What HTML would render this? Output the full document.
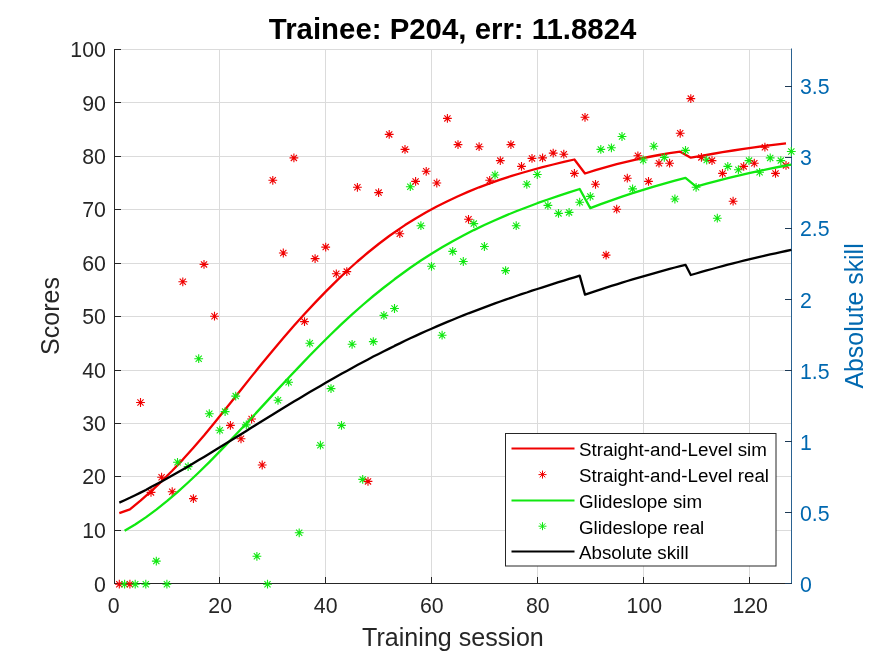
<!DOCTYPE html>
<html><head><meta charset="utf-8"><style>
html,body{margin:0;padding:0;background:#fff;}
svg{display:block;font-family:"Liberation Sans",sans-serif;filter:grayscale(0.001);}
</style></head><body>
<svg width="875" height="656" viewBox="0 0 875 656">
<rect width="875" height="656" fill="#fff"/>
<line x1="114.5" y1="583.5" x2="791.5" y2="583.5" stroke="#dbdbdb" stroke-width="1"/>
<line x1="114.5" y1="530.5" x2="791.5" y2="530.5" stroke="#dbdbdb" stroke-width="1"/>
<line x1="114.5" y1="476.5" x2="791.5" y2="476.5" stroke="#dbdbdb" stroke-width="1"/>
<line x1="114.5" y1="423.5" x2="791.5" y2="423.5" stroke="#dbdbdb" stroke-width="1"/>
<line x1="114.5" y1="370.5" x2="791.5" y2="370.5" stroke="#dbdbdb" stroke-width="1"/>
<line x1="114.5" y1="316.5" x2="791.5" y2="316.5" stroke="#dbdbdb" stroke-width="1"/>
<line x1="114.5" y1="263.5" x2="791.5" y2="263.5" stroke="#dbdbdb" stroke-width="1"/>
<line x1="114.5" y1="209.5" x2="791.5" y2="209.5" stroke="#dbdbdb" stroke-width="1"/>
<line x1="114.5" y1="156.5" x2="791.5" y2="156.5" stroke="#dbdbdb" stroke-width="1"/>
<line x1="114.5" y1="102.5" x2="791.5" y2="102.5" stroke="#dbdbdb" stroke-width="1"/>
<line x1="114.5" y1="49.5" x2="791.5" y2="49.5" stroke="#dbdbdb" stroke-width="1"/>
<line x1="219.5" y1="49.5" x2="219.5" y2="583.5" stroke="#dbdbdb" stroke-width="1"/>
<line x1="325.5" y1="49.5" x2="325.5" y2="583.5" stroke="#dbdbdb" stroke-width="1"/>
<line x1="431.5" y1="49.5" x2="431.5" y2="583.5" stroke="#dbdbdb" stroke-width="1"/>
<line x1="537.5" y1="49.5" x2="537.5" y2="583.5" stroke="#dbdbdb" stroke-width="1"/>
<line x1="643.5" y1="49.5" x2="643.5" y2="583.5" stroke="#dbdbdb" stroke-width="1"/>
<line x1="749.5" y1="49.5" x2="749.5" y2="583.5" stroke="#dbdbdb" stroke-width="1"/>
<line x1="114.5" y1="49.0" x2="114.5" y2="584.0" stroke="#262626" stroke-width="1"/>
<line x1="114" y1="583.5" x2="791.5" y2="583.5" stroke="#262626" stroke-width="1"/>
<line x1="791.5" y1="48.5" x2="791.5" y2="584.0" stroke="#2a6291" stroke-width="1"/>
<line x1="114" y1="583.5" x2="121" y2="583.5" stroke="#262626" stroke-width="1"/>
<line x1="114" y1="530.5" x2="121" y2="530.5" stroke="#262626" stroke-width="1"/>
<line x1="114" y1="476.5" x2="121" y2="476.5" stroke="#262626" stroke-width="1"/>
<line x1="114" y1="423.5" x2="121" y2="423.5" stroke="#262626" stroke-width="1"/>
<line x1="114" y1="370.5" x2="121" y2="370.5" stroke="#262626" stroke-width="1"/>
<line x1="114" y1="316.5" x2="121" y2="316.5" stroke="#262626" stroke-width="1"/>
<line x1="114" y1="263.5" x2="121" y2="263.5" stroke="#262626" stroke-width="1"/>
<line x1="114" y1="209.5" x2="121" y2="209.5" stroke="#262626" stroke-width="1"/>
<line x1="114" y1="156.5" x2="121" y2="156.5" stroke="#262626" stroke-width="1"/>
<line x1="114" y1="102.5" x2="121" y2="102.5" stroke="#262626" stroke-width="1"/>
<line x1="114" y1="49.5" x2="121" y2="49.5" stroke="#262626" stroke-width="1"/>
<line x1="114.5" y1="584" x2="114.5" y2="577" stroke="#262626" stroke-width="1"/>
<line x1="219.5" y1="584" x2="219.5" y2="577" stroke="#262626" stroke-width="1"/>
<line x1="325.5" y1="584" x2="325.5" y2="577" stroke="#262626" stroke-width="1"/>
<line x1="431.5" y1="584" x2="431.5" y2="577" stroke="#262626" stroke-width="1"/>
<line x1="537.5" y1="584" x2="537.5" y2="577" stroke="#262626" stroke-width="1"/>
<line x1="643.5" y1="584" x2="643.5" y2="577" stroke="#262626" stroke-width="1"/>
<line x1="749.5" y1="584" x2="749.5" y2="577" stroke="#262626" stroke-width="1"/>
<line x1="785" y1="583.5" x2="792" y2="583.5" stroke="#1d3a56" stroke-width="1"/>
<line x1="785" y1="512.5" x2="792" y2="512.5" stroke="#1d3a56" stroke-width="1"/>
<line x1="785" y1="441.5" x2="792" y2="441.5" stroke="#1d3a56" stroke-width="1"/>
<line x1="785" y1="370.5" x2="792" y2="370.5" stroke="#1d3a56" stroke-width="1"/>
<line x1="785" y1="299.5" x2="792" y2="299.5" stroke="#1d3a56" stroke-width="1"/>
<line x1="785" y1="228.5" x2="792" y2="228.5" stroke="#1d3a56" stroke-width="1"/>
<line x1="785" y1="157.5" x2="792" y2="157.5" stroke="#1d3a56" stroke-width="1"/>
<line x1="785" y1="86.5" x2="792" y2="86.5" stroke="#1d3a56" stroke-width="1"/>
<polyline points="119.3,513.2 129.9,509.4 140.5,500.7 151.0,491.3 161.6,481.3 172.2,470.7 182.8,459.6 193.4,447.8 204.0,435.5 214.5,422.7 230.4,403.0 241.0,389.7 251.6,376.4 262.2,363.3 272.8,350.4 283.3,337.9 293.9,325.7 304.5,314.0 315.1,302.6 325.7,291.6 336.3,281.1 346.8,271.0 357.4,261.5 368.0,252.5 378.6,244.0 389.2,236.0 399.8,228.6 405.0,225.1 415.6,218.5 426.2,212.3 436.8,206.5 447.4,201.2 458.0,196.2 468.5,191.6 479.1,187.3 489.7,183.4 500.3,179.7 510.9,176.2 521.5,173.0 532.0,170.0 542.6,167.2 553.2,164.5 563.8,161.9 574.4,159.5 585.0,173.5 595.5,170.2 606.1,167.1 616.7,164.2 627.3,161.6 637.9,159.1 648.5,157.0 659.0,155.0 669.6,153.2 680.2,151.7 690.8,157.7 701.4,155.8 712.0,154.0 722.5,152.2 733.1,150.5 743.7,148.9 754.3,147.4 764.9,145.9 775.5,144.6 786.0,143.3" fill="none" stroke="#f00000" stroke-width="2.3" stroke-linejoin="round"/>
<path transform="translate(119.3,584.2)" d="M-4.4,0H4.4M0,-4.4V4.4M-3.1,-3.1L3.1,3.1M-3.1,3.1L3.1,-3.1" stroke="#f00000" stroke-width="1.1" fill="none"/>
<path transform="translate(124.6,584.2)" d="M-4.4,0H4.4M0,-4.4V4.4M-3.1,-3.1L3.1,3.1M-3.1,3.1L3.1,-3.1" stroke="#10e810" stroke-width="1.1" fill="none"/>
<path transform="translate(129.9,584.2)" d="M-4.4,0H4.4M0,-4.4V4.4M-3.1,-3.1L3.1,3.1M-3.1,3.1L3.1,-3.1" stroke="#f00000" stroke-width="1.1" fill="none"/>
<path transform="translate(135.2,584.2)" d="M-4.4,0H4.4M0,-4.4V4.4M-3.1,-3.1L3.1,3.1M-3.1,3.1L3.1,-3.1" stroke="#10e810" stroke-width="1.1" fill="none"/>
<path transform="translate(140.5,402.5)" d="M-4.4,0H4.4M0,-4.4V4.4M-3.1,-3.1L3.1,3.1M-3.1,3.1L3.1,-3.1" stroke="#f00000" stroke-width="1.1" fill="none"/>
<path transform="translate(145.8,584.2)" d="M-4.4,0H4.4M0,-4.4V4.4M-3.1,-3.1L3.1,3.1M-3.1,3.1L3.1,-3.1" stroke="#10e810" stroke-width="1.1" fill="none"/>
<path transform="translate(151.0,492.4)" d="M-4.4,0H4.4M0,-4.4V4.4M-3.1,-3.1L3.1,3.1M-3.1,3.1L3.1,-3.1" stroke="#f00000" stroke-width="1.1" fill="none"/>
<path transform="translate(156.3,561.1)" d="M-4.4,0H4.4M0,-4.4V4.4M-3.1,-3.1L3.1,3.1M-3.1,3.1L3.1,-3.1" stroke="#10e810" stroke-width="1.1" fill="none"/>
<path transform="translate(161.6,477.2)" d="M-4.4,0H4.4M0,-4.4V4.4M-3.1,-3.1L3.1,3.1M-3.1,3.1L3.1,-3.1" stroke="#f00000" stroke-width="1.1" fill="none"/>
<path transform="translate(166.9,584.2)" d="M-4.4,0H4.4M0,-4.4V4.4M-3.1,-3.1L3.1,3.1M-3.1,3.1L3.1,-3.1" stroke="#10e810" stroke-width="1.1" fill="none"/>
<path transform="translate(172.2,491.7)" d="M-4.4,0H4.4M0,-4.4V4.4M-3.1,-3.1L3.1,3.1M-3.1,3.1L3.1,-3.1" stroke="#f00000" stroke-width="1.1" fill="none"/>
<path transform="translate(177.5,462.3)" d="M-4.4,0H4.4M0,-4.4V4.4M-3.1,-3.1L3.1,3.1M-3.1,3.1L3.1,-3.1" stroke="#10e810" stroke-width="1.1" fill="none"/>
<path transform="translate(182.8,281.8)" d="M-4.4,0H4.4M0,-4.4V4.4M-3.1,-3.1L3.1,3.1M-3.1,3.1L3.1,-3.1" stroke="#f00000" stroke-width="1.1" fill="none"/>
<path transform="translate(188.1,466.6)" d="M-4.4,0H4.4M0,-4.4V4.4M-3.1,-3.1L3.1,3.1M-3.1,3.1L3.1,-3.1" stroke="#10e810" stroke-width="1.1" fill="none"/>
<path transform="translate(193.4,498.6)" d="M-4.4,0H4.4M0,-4.4V4.4M-3.1,-3.1L3.1,3.1M-3.1,3.1L3.1,-3.1" stroke="#f00000" stroke-width="1.1" fill="none"/>
<path transform="translate(198.7,358.7)" d="M-4.4,0H4.4M0,-4.4V4.4M-3.1,-3.1L3.1,3.1M-3.1,3.1L3.1,-3.1" stroke="#10e810" stroke-width="1.1" fill="none"/>
<path transform="translate(204.0,264.4)" d="M-4.4,0H4.4M0,-4.4V4.4M-3.1,-3.1L3.1,3.1M-3.1,3.1L3.1,-3.1" stroke="#f00000" stroke-width="1.1" fill="none"/>
<path transform="translate(209.3,413.7)" d="M-4.4,0H4.4M0,-4.4V4.4M-3.1,-3.1L3.1,3.1M-3.1,3.1L3.1,-3.1" stroke="#10e810" stroke-width="1.1" fill="none"/>
<path transform="translate(214.5,316.2)" d="M-4.4,0H4.4M0,-4.4V4.4M-3.1,-3.1L3.1,3.1M-3.1,3.1L3.1,-3.1" stroke="#f00000" stroke-width="1.1" fill="none"/>
<path transform="translate(219.8,430.2)" d="M-4.4,0H4.4M0,-4.4V4.4M-3.1,-3.1L3.1,3.1M-3.1,3.1L3.1,-3.1" stroke="#10e810" stroke-width="1.1" fill="none"/>
<path transform="translate(225.1,411.6)" d="M-4.4,0H4.4M0,-4.4V4.4M-3.1,-3.1L3.1,3.1M-3.1,3.1L3.1,-3.1" stroke="#10e810" stroke-width="1.1" fill="none"/>
<path transform="translate(230.4,425.4)" d="M-4.4,0H4.4M0,-4.4V4.4M-3.1,-3.1L3.1,3.1M-3.1,3.1L3.1,-3.1" stroke="#f00000" stroke-width="1.1" fill="none"/>
<path transform="translate(235.7,396.1)" d="M-4.4,0H4.4M0,-4.4V4.4M-3.1,-3.1L3.1,3.1M-3.1,3.1L3.1,-3.1" stroke="#10e810" stroke-width="1.1" fill="none"/>
<path transform="translate(241.0,438.8)" d="M-4.4,0H4.4M0,-4.4V4.4M-3.1,-3.1L3.1,3.1M-3.1,3.1L3.1,-3.1" stroke="#f00000" stroke-width="1.1" fill="none"/>
<path transform="translate(246.3,424.9)" d="M-4.4,0H4.4M0,-4.4V4.4M-3.1,-3.1L3.1,3.1M-3.1,3.1L3.1,-3.1" stroke="#10e810" stroke-width="1.1" fill="none"/>
<path transform="translate(251.6,419.0)" d="M-4.4,0H4.4M0,-4.4V4.4M-3.1,-3.1L3.1,3.1M-3.1,3.1L3.1,-3.1" stroke="#f00000" stroke-width="1.1" fill="none"/>
<path transform="translate(256.9,556.3)" d="M-4.4,0H4.4M0,-4.4V4.4M-3.1,-3.1L3.1,3.1M-3.1,3.1L3.1,-3.1" stroke="#10e810" stroke-width="1.1" fill="none"/>
<path transform="translate(262.2,465.0)" d="M-4.4,0H4.4M0,-4.4V4.4M-3.1,-3.1L3.1,3.1M-3.1,3.1L3.1,-3.1" stroke="#f00000" stroke-width="1.1" fill="none"/>
<path transform="translate(267.5,584.2)" d="M-4.4,0H4.4M0,-4.4V4.4M-3.1,-3.1L3.1,3.1M-3.1,3.1L3.1,-3.1" stroke="#10e810" stroke-width="1.1" fill="none"/>
<path transform="translate(272.8,180.3)" d="M-4.4,0H4.4M0,-4.4V4.4M-3.1,-3.1L3.1,3.1M-3.1,3.1L3.1,-3.1" stroke="#f00000" stroke-width="1.1" fill="none"/>
<path transform="translate(278.0,400.3)" d="M-4.4,0H4.4M0,-4.4V4.4M-3.1,-3.1L3.1,3.1M-3.1,3.1L3.1,-3.1" stroke="#10e810" stroke-width="1.1" fill="none"/>
<path transform="translate(283.3,253.0)" d="M-4.4,0H4.4M0,-4.4V4.4M-3.1,-3.1L3.1,3.1M-3.1,3.1L3.1,-3.1" stroke="#f00000" stroke-width="1.1" fill="none"/>
<path transform="translate(288.6,382.2)" d="M-4.4,0H4.4M0,-4.4V4.4M-3.1,-3.1L3.1,3.1M-3.1,3.1L3.1,-3.1" stroke="#10e810" stroke-width="1.1" fill="none"/>
<path transform="translate(293.9,157.9)" d="M-4.4,0H4.4M0,-4.4V4.4M-3.1,-3.1L3.1,3.1M-3.1,3.1L3.1,-3.1" stroke="#f00000" stroke-width="1.1" fill="none"/>
<path transform="translate(299.2,532.8)" d="M-4.4,0H4.4M0,-4.4V4.4M-3.1,-3.1L3.1,3.1M-3.1,3.1L3.1,-3.1" stroke="#10e810" stroke-width="1.1" fill="none"/>
<path transform="translate(304.5,321.6)" d="M-4.4,0H4.4M0,-4.4V4.4M-3.1,-3.1L3.1,3.1M-3.1,3.1L3.1,-3.1" stroke="#f00000" stroke-width="1.1" fill="none"/>
<path transform="translate(309.8,343.2)" d="M-4.4,0H4.4M0,-4.4V4.4M-3.1,-3.1L3.1,3.1M-3.1,3.1L3.1,-3.1" stroke="#10e810" stroke-width="1.1" fill="none"/>
<path transform="translate(315.1,258.6)" d="M-4.4,0H4.4M0,-4.4V4.4M-3.1,-3.1L3.1,3.1M-3.1,3.1L3.1,-3.1" stroke="#f00000" stroke-width="1.1" fill="none"/>
<path transform="translate(320.4,445.2)" d="M-4.4,0H4.4M0,-4.4V4.4M-3.1,-3.1L3.1,3.1M-3.1,3.1L3.1,-3.1" stroke="#10e810" stroke-width="1.1" fill="none"/>
<path transform="translate(325.7,247.1)" d="M-4.4,0H4.4M0,-4.4V4.4M-3.1,-3.1L3.1,3.1M-3.1,3.1L3.1,-3.1" stroke="#f00000" stroke-width="1.1" fill="none"/>
<path transform="translate(331.0,388.6)" d="M-4.4,0H4.4M0,-4.4V4.4M-3.1,-3.1L3.1,3.1M-3.1,3.1L3.1,-3.1" stroke="#10e810" stroke-width="1.1" fill="none"/>
<path transform="translate(336.3,273.8)" d="M-4.4,0H4.4M0,-4.4V4.4M-3.1,-3.1L3.1,3.1M-3.1,3.1L3.1,-3.1" stroke="#f00000" stroke-width="1.1" fill="none"/>
<path transform="translate(341.5,425.4)" d="M-4.4,0H4.4M0,-4.4V4.4M-3.1,-3.1L3.1,3.1M-3.1,3.1L3.1,-3.1" stroke="#10e810" stroke-width="1.1" fill="none"/>
<path transform="translate(346.8,271.6)" d="M-4.4,0H4.4M0,-4.4V4.4M-3.1,-3.1L3.1,3.1M-3.1,3.1L3.1,-3.1" stroke="#f00000" stroke-width="1.1" fill="none"/>
<path transform="translate(352.1,344.3)" d="M-4.4,0H4.4M0,-4.4V4.4M-3.1,-3.1L3.1,3.1M-3.1,3.1L3.1,-3.1" stroke="#10e810" stroke-width="1.1" fill="none"/>
<path transform="translate(357.4,187.3)" d="M-4.4,0H4.4M0,-4.4V4.4M-3.1,-3.1L3.1,3.1M-3.1,3.1L3.1,-3.1" stroke="#f00000" stroke-width="1.1" fill="none"/>
<path transform="translate(362.7,479.4)" d="M-4.4,0H4.4M0,-4.4V4.4M-3.1,-3.1L3.1,3.1M-3.1,3.1L3.1,-3.1" stroke="#10e810" stroke-width="1.1" fill="none"/>
<path transform="translate(368.0,481.4)" d="M-4.4,0H4.4M0,-4.4V4.4M-3.1,-3.1L3.1,3.1M-3.1,3.1L3.1,-3.1" stroke="#f00000" stroke-width="1.1" fill="none"/>
<path transform="translate(373.3,341.6)" d="M-4.4,0H4.4M0,-4.4V4.4M-3.1,-3.1L3.1,3.1M-3.1,3.1L3.1,-3.1" stroke="#10e810" stroke-width="1.1" fill="none"/>
<path transform="translate(378.6,192.6)" d="M-4.4,0H4.4M0,-4.4V4.4M-3.1,-3.1L3.1,3.1M-3.1,3.1L3.1,-3.1" stroke="#f00000" stroke-width="1.1" fill="none"/>
<path transform="translate(383.9,315.4)" d="M-4.4,0H4.4M0,-4.4V4.4M-3.1,-3.1L3.1,3.1M-3.1,3.1L3.1,-3.1" stroke="#10e810" stroke-width="1.1" fill="none"/>
<path transform="translate(389.2,134.4)" d="M-4.4,0H4.4M0,-4.4V4.4M-3.1,-3.1L3.1,3.1M-3.1,3.1L3.1,-3.1" stroke="#f00000" stroke-width="1.1" fill="none"/>
<path transform="translate(394.5,308.5)" d="M-4.4,0H4.4M0,-4.4V4.4M-3.1,-3.1L3.1,3.1M-3.1,3.1L3.1,-3.1" stroke="#10e810" stroke-width="1.1" fill="none"/>
<path transform="translate(399.8,233.7)" d="M-4.4,0H4.4M0,-4.4V4.4M-3.1,-3.1L3.1,3.1M-3.1,3.1L3.1,-3.1" stroke="#f00000" stroke-width="1.1" fill="none"/>
<path transform="translate(405.0,149.4)" d="M-4.4,0H4.4M0,-4.4V4.4M-3.1,-3.1L3.1,3.1M-3.1,3.1L3.1,-3.1" stroke="#f00000" stroke-width="1.1" fill="none"/>
<path transform="translate(410.3,186.7)" d="M-4.4,0H4.4M0,-4.4V4.4M-3.1,-3.1L3.1,3.1M-3.1,3.1L3.1,-3.1" stroke="#10e810" stroke-width="1.1" fill="none"/>
<path transform="translate(415.6,181.4)" d="M-4.4,0H4.4M0,-4.4V4.4M-3.1,-3.1L3.1,3.1M-3.1,3.1L3.1,-3.1" stroke="#f00000" stroke-width="1.1" fill="none"/>
<path transform="translate(420.9,225.7)" d="M-4.4,0H4.4M0,-4.4V4.4M-3.1,-3.1L3.1,3.1M-3.1,3.1L3.1,-3.1" stroke="#10e810" stroke-width="1.1" fill="none"/>
<path transform="translate(426.2,171.3)" d="M-4.4,0H4.4M0,-4.4V4.4M-3.1,-3.1L3.1,3.1M-3.1,3.1L3.1,-3.1" stroke="#f00000" stroke-width="1.1" fill="none"/>
<path transform="translate(431.5,266.3)" d="M-4.4,0H4.4M0,-4.4V4.4M-3.1,-3.1L3.1,3.1M-3.1,3.1L3.1,-3.1" stroke="#10e810" stroke-width="1.1" fill="none"/>
<path transform="translate(436.8,183.0)" d="M-4.4,0H4.4M0,-4.4V4.4M-3.1,-3.1L3.1,3.1M-3.1,3.1L3.1,-3.1" stroke="#f00000" stroke-width="1.1" fill="none"/>
<path transform="translate(442.1,335.2)" d="M-4.4,0H4.4M0,-4.4V4.4M-3.1,-3.1L3.1,3.1M-3.1,3.1L3.1,-3.1" stroke="#10e810" stroke-width="1.1" fill="none"/>
<path transform="translate(447.4,118.4)" d="M-4.4,0H4.4M0,-4.4V4.4M-3.1,-3.1L3.1,3.1M-3.1,3.1L3.1,-3.1" stroke="#f00000" stroke-width="1.1" fill="none"/>
<path transform="translate(452.7,251.4)" d="M-4.4,0H4.4M0,-4.4V4.4M-3.1,-3.1L3.1,3.1M-3.1,3.1L3.1,-3.1" stroke="#10e810" stroke-width="1.1" fill="none"/>
<path transform="translate(458.0,144.6)" d="M-4.4,0H4.4M0,-4.4V4.4M-3.1,-3.1L3.1,3.1M-3.1,3.1L3.1,-3.1" stroke="#f00000" stroke-width="1.1" fill="none"/>
<path transform="translate(463.3,261.5)" d="M-4.4,0H4.4M0,-4.4V4.4M-3.1,-3.1L3.1,3.1M-3.1,3.1L3.1,-3.1" stroke="#10e810" stroke-width="1.1" fill="none"/>
<path transform="translate(468.5,219.3)" d="M-4.4,0H4.4M0,-4.4V4.4M-3.1,-3.1L3.1,3.1M-3.1,3.1L3.1,-3.1" stroke="#f00000" stroke-width="1.1" fill="none"/>
<path transform="translate(473.8,223.6)" d="M-4.4,0H4.4M0,-4.4V4.4M-3.1,-3.1L3.1,3.1M-3.1,3.1L3.1,-3.1" stroke="#10e810" stroke-width="1.1" fill="none"/>
<path transform="translate(479.1,146.7)" d="M-4.4,0H4.4M0,-4.4V4.4M-3.1,-3.1L3.1,3.1M-3.1,3.1L3.1,-3.1" stroke="#f00000" stroke-width="1.1" fill="none"/>
<path transform="translate(484.4,246.5)" d="M-4.4,0H4.4M0,-4.4V4.4M-3.1,-3.1L3.1,3.1M-3.1,3.1L3.1,-3.1" stroke="#10e810" stroke-width="1.1" fill="none"/>
<path transform="translate(489.7,180.3)" d="M-4.4,0H4.4M0,-4.4V4.4M-3.1,-3.1L3.1,3.1M-3.1,3.1L3.1,-3.1" stroke="#f00000" stroke-width="1.1" fill="none"/>
<path transform="translate(495.0,175.0)" d="M-4.4,0H4.4M0,-4.4V4.4M-3.1,-3.1L3.1,3.1M-3.1,3.1L3.1,-3.1" stroke="#10e810" stroke-width="1.1" fill="none"/>
<path transform="translate(500.3,160.6)" d="M-4.4,0H4.4M0,-4.4V4.4M-3.1,-3.1L3.1,3.1M-3.1,3.1L3.1,-3.1" stroke="#f00000" stroke-width="1.1" fill="none"/>
<path transform="translate(505.6,270.6)" d="M-4.4,0H4.4M0,-4.4V4.4M-3.1,-3.1L3.1,3.1M-3.1,3.1L3.1,-3.1" stroke="#10e810" stroke-width="1.1" fill="none"/>
<path transform="translate(510.9,144.6)" d="M-4.4,0H4.4M0,-4.4V4.4M-3.1,-3.1L3.1,3.1M-3.1,3.1L3.1,-3.1" stroke="#f00000" stroke-width="1.1" fill="none"/>
<path transform="translate(516.2,225.7)" d="M-4.4,0H4.4M0,-4.4V4.4M-3.1,-3.1L3.1,3.1M-3.1,3.1L3.1,-3.1" stroke="#10e810" stroke-width="1.1" fill="none"/>
<path transform="translate(521.5,166.4)" d="M-4.4,0H4.4M0,-4.4V4.4M-3.1,-3.1L3.1,3.1M-3.1,3.1L3.1,-3.1" stroke="#f00000" stroke-width="1.1" fill="none"/>
<path transform="translate(526.8,184.3)" d="M-4.4,0H4.4M0,-4.4V4.4M-3.1,-3.1L3.1,3.1M-3.1,3.1L3.1,-3.1" stroke="#10e810" stroke-width="1.1" fill="none"/>
<path transform="translate(532.0,158.4)" d="M-4.4,0H4.4M0,-4.4V4.4M-3.1,-3.1L3.1,3.1M-3.1,3.1L3.1,-3.1" stroke="#f00000" stroke-width="1.1" fill="none"/>
<path transform="translate(537.3,174.5)" d="M-4.4,0H4.4M0,-4.4V4.4M-3.1,-3.1L3.1,3.1M-3.1,3.1L3.1,-3.1" stroke="#10e810" stroke-width="1.1" fill="none"/>
<path transform="translate(542.6,157.9)" d="M-4.4,0H4.4M0,-4.4V4.4M-3.1,-3.1L3.1,3.1M-3.1,3.1L3.1,-3.1" stroke="#f00000" stroke-width="1.1" fill="none"/>
<path transform="translate(547.9,205.4)" d="M-4.4,0H4.4M0,-4.4V4.4M-3.1,-3.1L3.1,3.1M-3.1,3.1L3.1,-3.1" stroke="#10e810" stroke-width="1.1" fill="none"/>
<path transform="translate(553.2,153.1)" d="M-4.4,0H4.4M0,-4.4V4.4M-3.1,-3.1L3.1,3.1M-3.1,3.1L3.1,-3.1" stroke="#f00000" stroke-width="1.1" fill="none"/>
<path transform="translate(558.5,213.4)" d="M-4.4,0H4.4M0,-4.4V4.4M-3.1,-3.1L3.1,3.1M-3.1,3.1L3.1,-3.1" stroke="#10e810" stroke-width="1.1" fill="none"/>
<path transform="translate(563.8,154.2)" d="M-4.4,0H4.4M0,-4.4V4.4M-3.1,-3.1L3.1,3.1M-3.1,3.1L3.1,-3.1" stroke="#f00000" stroke-width="1.1" fill="none"/>
<path transform="translate(569.1,212.4)" d="M-4.4,0H4.4M0,-4.4V4.4M-3.1,-3.1L3.1,3.1M-3.1,3.1L3.1,-3.1" stroke="#10e810" stroke-width="1.1" fill="none"/>
<path transform="translate(574.4,173.4)" d="M-4.4,0H4.4M0,-4.4V4.4M-3.1,-3.1L3.1,3.1M-3.1,3.1L3.1,-3.1" stroke="#f00000" stroke-width="1.1" fill="none"/>
<path transform="translate(579.7,202.2)" d="M-4.4,0H4.4M0,-4.4V4.4M-3.1,-3.1L3.1,3.1M-3.1,3.1L3.1,-3.1" stroke="#10e810" stroke-width="1.1" fill="none"/>
<path transform="translate(585.0,117.3)" d="M-4.4,0H4.4M0,-4.4V4.4M-3.1,-3.1L3.1,3.1M-3.1,3.1L3.1,-3.1" stroke="#f00000" stroke-width="1.1" fill="none"/>
<path transform="translate(590.3,196.4)" d="M-4.4,0H4.4M0,-4.4V4.4M-3.1,-3.1L3.1,3.1M-3.1,3.1L3.1,-3.1" stroke="#10e810" stroke-width="1.1" fill="none"/>
<path transform="translate(595.5,184.3)" d="M-4.4,0H4.4M0,-4.4V4.4M-3.1,-3.1L3.1,3.1M-3.1,3.1L3.1,-3.1" stroke="#f00000" stroke-width="1.1" fill="none"/>
<path transform="translate(600.8,149.4)" d="M-4.4,0H4.4M0,-4.4V4.4M-3.1,-3.1L3.1,3.1M-3.1,3.1L3.1,-3.1" stroke="#10e810" stroke-width="1.1" fill="none"/>
<path transform="translate(606.1,255.1)" d="M-4.4,0H4.4M0,-4.4V4.4M-3.1,-3.1L3.1,3.1M-3.1,3.1L3.1,-3.1" stroke="#f00000" stroke-width="1.1" fill="none"/>
<path transform="translate(611.4,147.8)" d="M-4.4,0H4.4M0,-4.4V4.4M-3.1,-3.1L3.1,3.1M-3.1,3.1L3.1,-3.1" stroke="#10e810" stroke-width="1.1" fill="none"/>
<path transform="translate(616.7,209.2)" d="M-4.4,0H4.4M0,-4.4V4.4M-3.1,-3.1L3.1,3.1M-3.1,3.1L3.1,-3.1" stroke="#f00000" stroke-width="1.1" fill="none"/>
<path transform="translate(622.0,136.5)" d="M-4.4,0H4.4M0,-4.4V4.4M-3.1,-3.1L3.1,3.1M-3.1,3.1L3.1,-3.1" stroke="#10e810" stroke-width="1.1" fill="none"/>
<path transform="translate(627.3,178.2)" d="M-4.4,0H4.4M0,-4.4V4.4M-3.1,-3.1L3.1,3.1M-3.1,3.1L3.1,-3.1" stroke="#f00000" stroke-width="1.1" fill="none"/>
<path transform="translate(632.6,188.9)" d="M-4.4,0H4.4M0,-4.4V4.4M-3.1,-3.1L3.1,3.1M-3.1,3.1L3.1,-3.1" stroke="#10e810" stroke-width="1.1" fill="none"/>
<path transform="translate(637.9,155.8)" d="M-4.4,0H4.4M0,-4.4V4.4M-3.1,-3.1L3.1,3.1M-3.1,3.1L3.1,-3.1" stroke="#f00000" stroke-width="1.1" fill="none"/>
<path transform="translate(643.2,160.0)" d="M-4.4,0H4.4M0,-4.4V4.4M-3.1,-3.1L3.1,3.1M-3.1,3.1L3.1,-3.1" stroke="#10e810" stroke-width="1.1" fill="none"/>
<path transform="translate(648.5,181.4)" d="M-4.4,0H4.4M0,-4.4V4.4M-3.1,-3.1L3.1,3.1M-3.1,3.1L3.1,-3.1" stroke="#f00000" stroke-width="1.1" fill="none"/>
<path transform="translate(653.8,146.2)" d="M-4.4,0H4.4M0,-4.4V4.4M-3.1,-3.1L3.1,3.1M-3.1,3.1L3.1,-3.1" stroke="#10e810" stroke-width="1.1" fill="none"/>
<path transform="translate(659.0,163.2)" d="M-4.4,0H4.4M0,-4.4V4.4M-3.1,-3.1L3.1,3.1M-3.1,3.1L3.1,-3.1" stroke="#f00000" stroke-width="1.1" fill="none"/>
<path transform="translate(664.3,157.4)" d="M-4.4,0H4.4M0,-4.4V4.4M-3.1,-3.1L3.1,3.1M-3.1,3.1L3.1,-3.1" stroke="#10e810" stroke-width="1.1" fill="none"/>
<path transform="translate(669.6,163.2)" d="M-4.4,0H4.4M0,-4.4V4.4M-3.1,-3.1L3.1,3.1M-3.1,3.1L3.1,-3.1" stroke="#f00000" stroke-width="1.1" fill="none"/>
<path transform="translate(674.9,199.0)" d="M-4.4,0H4.4M0,-4.4V4.4M-3.1,-3.1L3.1,3.1M-3.1,3.1L3.1,-3.1" stroke="#10e810" stroke-width="1.1" fill="none"/>
<path transform="translate(680.2,133.3)" d="M-4.4,0H4.4M0,-4.4V4.4M-3.1,-3.1L3.1,3.1M-3.1,3.1L3.1,-3.1" stroke="#f00000" stroke-width="1.1" fill="none"/>
<path transform="translate(685.5,150.4)" d="M-4.4,0H4.4M0,-4.4V4.4M-3.1,-3.1L3.1,3.1M-3.1,3.1L3.1,-3.1" stroke="#10e810" stroke-width="1.1" fill="none"/>
<path transform="translate(690.8,98.6)" d="M-4.4,0H4.4M0,-4.4V4.4M-3.1,-3.1L3.1,3.1M-3.1,3.1L3.1,-3.1" stroke="#f00000" stroke-width="1.1" fill="none"/>
<path transform="translate(696.1,187.3)" d="M-4.4,0H4.4M0,-4.4V4.4M-3.1,-3.1L3.1,3.1M-3.1,3.1L3.1,-3.1" stroke="#10e810" stroke-width="1.1" fill="none"/>
<path transform="translate(701.4,157.4)" d="M-4.4,0H4.4M0,-4.4V4.4M-3.1,-3.1L3.1,3.1M-3.1,3.1L3.1,-3.1" stroke="#f00000" stroke-width="1.1" fill="none"/>
<path transform="translate(706.7,160.0)" d="M-4.4,0H4.4M0,-4.4V4.4M-3.1,-3.1L3.1,3.1M-3.1,3.1L3.1,-3.1" stroke="#10e810" stroke-width="1.1" fill="none"/>
<path transform="translate(712.0,160.6)" d="M-4.4,0H4.4M0,-4.4V4.4M-3.1,-3.1L3.1,3.1M-3.1,3.1L3.1,-3.1" stroke="#f00000" stroke-width="1.1" fill="none"/>
<path transform="translate(717.3,218.2)" d="M-4.4,0H4.4M0,-4.4V4.4M-3.1,-3.1L3.1,3.1M-3.1,3.1L3.1,-3.1" stroke="#10e810" stroke-width="1.1" fill="none"/>
<path transform="translate(722.5,173.4)" d="M-4.4,0H4.4M0,-4.4V4.4M-3.1,-3.1L3.1,3.1M-3.1,3.1L3.1,-3.1" stroke="#f00000" stroke-width="1.1" fill="none"/>
<path transform="translate(727.8,166.4)" d="M-4.4,0H4.4M0,-4.4V4.4M-3.1,-3.1L3.1,3.1M-3.1,3.1L3.1,-3.1" stroke="#10e810" stroke-width="1.1" fill="none"/>
<path transform="translate(733.1,201.2)" d="M-4.4,0H4.4M0,-4.4V4.4M-3.1,-3.1L3.1,3.1M-3.1,3.1L3.1,-3.1" stroke="#f00000" stroke-width="1.1" fill="none"/>
<path transform="translate(738.4,169.7)" d="M-4.4,0H4.4M0,-4.4V4.4M-3.1,-3.1L3.1,3.1M-3.1,3.1L3.1,-3.1" stroke="#10e810" stroke-width="1.1" fill="none"/>
<path transform="translate(743.7,166.4)" d="M-4.4,0H4.4M0,-4.4V4.4M-3.1,-3.1L3.1,3.1M-3.1,3.1L3.1,-3.1" stroke="#f00000" stroke-width="1.1" fill="none"/>
<path transform="translate(749.0,160.6)" d="M-4.4,0H4.4M0,-4.4V4.4M-3.1,-3.1L3.1,3.1M-3.1,3.1L3.1,-3.1" stroke="#10e810" stroke-width="1.1" fill="none"/>
<path transform="translate(754.3,163.2)" d="M-4.4,0H4.4M0,-4.4V4.4M-3.1,-3.1L3.1,3.1M-3.1,3.1L3.1,-3.1" stroke="#f00000" stroke-width="1.1" fill="none"/>
<path transform="translate(759.6,172.3)" d="M-4.4,0H4.4M0,-4.4V4.4M-3.1,-3.1L3.1,3.1M-3.1,3.1L3.1,-3.1" stroke="#10e810" stroke-width="1.1" fill="none"/>
<path transform="translate(764.9,147.2)" d="M-4.4,0H4.4M0,-4.4V4.4M-3.1,-3.1L3.1,3.1M-3.1,3.1L3.1,-3.1" stroke="#f00000" stroke-width="1.1" fill="none"/>
<path transform="translate(770.2,157.9)" d="M-4.4,0H4.4M0,-4.4V4.4M-3.1,-3.1L3.1,3.1M-3.1,3.1L3.1,-3.1" stroke="#10e810" stroke-width="1.1" fill="none"/>
<path transform="translate(775.5,173.4)" d="M-4.4,0H4.4M0,-4.4V4.4M-3.1,-3.1L3.1,3.1M-3.1,3.1L3.1,-3.1" stroke="#f00000" stroke-width="1.1" fill="none"/>
<path transform="translate(780.8,160.6)" d="M-4.4,0H4.4M0,-4.4V4.4M-3.1,-3.1L3.1,3.1M-3.1,3.1L3.1,-3.1" stroke="#10e810" stroke-width="1.1" fill="none"/>
<path transform="translate(786.0,165.4)" d="M-4.4,0H4.4M0,-4.4V4.4M-3.1,-3.1L3.1,3.1M-3.1,3.1L3.1,-3.1" stroke="#f00000" stroke-width="1.1" fill="none"/>
<path transform="translate(791.3,151.5)" d="M-4.4,0H4.4M0,-4.4V4.4M-3.1,-3.1L3.1,3.1M-3.1,3.1L3.1,-3.1" stroke="#10e810" stroke-width="1.1" fill="none"/>
<polyline points="124.6,530.8 135.2,524.5 145.8,517.4 156.3,509.6 166.9,501.1 177.5,492.1 188.1,482.5 198.7,472.5 209.3,462.1 219.8,451.4 225.1,445.9 235.7,434.8 246.3,423.5 256.9,412.1 267.5,400.6 278.0,389.1 288.6,377.8 299.2,366.6 309.8,355.5 320.4,344.8 331.0,334.3 341.5,324.2 352.1,314.4 362.7,305.0 373.3,296.0 383.9,287.5 394.5,279.3 410.3,267.7 420.9,260.5 431.5,253.7 442.1,247.3 452.7,241.2 463.3,235.5 473.8,230.1 484.4,225.0 495.0,220.2 505.6,215.6 516.2,211.3 526.8,207.2 537.3,203.2 547.9,199.5 558.5,195.9 569.1,192.4 579.7,189.0 590.3,208.1 600.8,204.1 611.4,200.3 622.0,196.7 632.6,193.2 643.2,189.8 653.8,186.6 664.3,183.6 674.9,180.7 685.5,177.9 696.1,186.6 706.7,183.7 717.3,180.8 727.8,178.1 738.4,175.6 749.0,173.1 759.6,170.8 770.2,168.6 780.8,166.5 791.3,164.6" fill="none" stroke="#10e810" stroke-width="2.3" stroke-linejoin="round"/>
<polyline points="119.3,502.6 124.6,500.2 129.9,497.8 135.2,495.2 140.5,492.6 145.8,489.9 151.0,487.1 156.3,484.3 161.6,481.4 166.9,478.5 172.2,475.5 177.5,472.5 182.8,469.5 188.1,466.4 193.4,463.2 198.7,460.1 204.0,456.9 209.3,453.7 214.5,450.5 219.8,447.2 225.1,444.0 230.4,440.7 235.7,437.4 241.0,434.2 246.3,430.9 251.6,427.6 256.9,424.3 262.2,421.0 267.5,417.8 272.8,414.5 278.0,411.3 283.3,408.0 288.6,404.8 293.9,401.6 299.2,398.4 304.5,395.2 309.8,392.1 315.1,389.0 320.4,385.9 325.7,382.8 331.0,379.8 336.3,376.8 341.5,373.8 346.8,370.9 352.1,367.9 357.4,365.1 362.7,362.2 368.0,359.4 373.3,356.6 378.6,353.9 383.9,351.2 389.2,348.6 394.5,345.9 399.8,343.4 405.0,340.8 410.3,338.3 415.6,335.9 420.9,333.4 426.2,331.0 431.5,328.7 436.8,326.4 442.1,324.1 447.4,321.9 452.7,319.7 458.0,317.5 463.3,315.4 468.5,313.3 473.8,311.3 479.1,309.3 484.4,307.3 489.7,305.3 495.0,303.4 500.3,301.5 505.6,299.7 510.9,297.8 516.2,296.0 521.5,294.2 526.8,292.5 532.0,290.7 537.3,289.0 542.6,287.3 547.9,285.6 553.2,283.9 558.5,282.2 563.8,280.6 569.1,278.9 574.4,277.3 579.7,275.6 585.0,294.6 590.3,292.8 595.5,291.1 600.8,289.3 606.1,287.6 611.4,285.9 616.7,284.3 622.0,282.6 627.3,281.0 632.6,279.4 637.9,277.9 643.2,276.3 648.5,274.8 653.8,273.3 659.0,271.8 664.3,270.4 669.6,268.9 674.9,267.5 680.2,266.2 685.5,264.8 690.8,275.0 696.1,273.5 701.4,271.9 706.7,270.4 712.0,269.0 717.3,267.5 722.5,266.1 727.8,264.7 733.1,263.3 738.4,262.0 743.7,260.7 749.0,259.4 754.3,258.1 759.6,256.9 764.9,255.6 770.2,254.4 775.5,253.3 780.8,252.1 786.0,251.0 791.3,249.9" fill="none" stroke="#000" stroke-width="2.3" stroke-linejoin="round"/>
<text transform="translate(105.90,592.35) scale(1,1.04)" text-anchor="end" font-size="21.3" fill="#262626">0</text>
<text transform="translate(105.90,537.90) scale(1,1.04)" text-anchor="end" font-size="21.3" fill="#262626">10</text>
<text transform="translate(105.90,484.30) scale(1,1.04)" text-anchor="end" font-size="21.3" fill="#262626">20</text>
<text transform="translate(105.90,431.30) scale(1,1.04)" text-anchor="end" font-size="21.3" fill="#262626">30</text>
<text transform="translate(105.90,378.00) scale(1,1.04)" text-anchor="end" font-size="21.3" fill="#262626">40</text>
<text transform="translate(105.90,324.30) scale(1,1.04)" text-anchor="end" font-size="21.3" fill="#262626">50</text>
<text transform="translate(105.90,271.30) scale(1,1.04)" text-anchor="end" font-size="21.3" fill="#262626">60</text>
<text transform="translate(105.90,217.30) scale(1,1.04)" text-anchor="end" font-size="21.3" fill="#262626">70</text>
<text transform="translate(105.90,164.35) scale(1,1.04)" text-anchor="end" font-size="21.3" fill="#262626">80</text>
<text transform="translate(105.90,111.10) scale(1,1.04)" text-anchor="end" font-size="21.3" fill="#262626">90</text>
<text transform="translate(105.90,56.90) scale(1,1.04)" text-anchor="end" font-size="21.3" fill="#262626">100</text>
<text transform="translate(113.70,613.40) scale(1,1.04)" text-anchor="middle" font-size="21.3" fill="#262626">0</text>
<text transform="translate(220.13,613.40) scale(1,1.04)" text-anchor="middle" font-size="21.3" fill="#262626">20</text>
<text transform="translate(325.67,613.40) scale(1,1.04)" text-anchor="middle" font-size="21.3" fill="#262626">40</text>
<text transform="translate(431.80,613.40) scale(1,1.04)" text-anchor="middle" font-size="21.3" fill="#262626">60</text>
<text transform="translate(537.74,613.40) scale(1,1.04)" text-anchor="middle" font-size="21.3" fill="#262626">80</text>
<text transform="translate(644.37,613.40) scale(1,1.04)" text-anchor="middle" font-size="21.3" fill="#262626">100</text>
<text transform="translate(750.20,613.40) scale(1,1.04)" text-anchor="middle" font-size="21.3" fill="#262626">120</text>
<text transform="translate(800.00,591.85) scale(1,1.04)" text-anchor="start" font-size="21.3" fill="#0068b0">0</text>
<text transform="translate(800.00,520.90) scale(1,1.04)" text-anchor="start" font-size="21.3" fill="#0068b0">0.5</text>
<text transform="translate(800.00,449.90) scale(1,1.04)" text-anchor="start" font-size="21.3" fill="#0068b0">1</text>
<text transform="translate(800.00,378.90) scale(1,1.04)" text-anchor="start" font-size="21.3" fill="#0068b0">1.5</text>
<text transform="translate(800.00,307.90) scale(1,1.04)" text-anchor="start" font-size="21.3" fill="#0068b0">2</text>
<text transform="translate(800.00,236.00) scale(1,1.04)" text-anchor="start" font-size="21.3" fill="#0068b0">2.5</text>
<text transform="translate(800.00,164.75) scale(1,1.04)" text-anchor="start" font-size="21.3" fill="#0068b0">3</text>
<text transform="translate(800.00,93.85) scale(1,1.04)" text-anchor="start" font-size="21.3" fill="#0068b0">3.5</text>
<text transform="translate(452.95,645.90) scale(1,1.015)" text-anchor="middle" font-size="25.1" fill="#262626">Training session</text>
<text transform="translate(58.80,316.00) rotate(-90) scale(1,1.066)" text-anchor="middle" font-size="25.0" fill="#262626">Scores</text>
<text transform="translate(863.10,315.95) rotate(-90) scale(1,1.046)" text-anchor="middle" font-size="24.9" fill="#0068b0">Absolute skill</text>
<text transform="translate(452.60,38.77) scale(1,1.025)" text-anchor="middle" font-size="29.4" fill="#000" font-weight="bold">Trainee: P204, err: 11.8824</text>
<rect x="505.5" y="433.5" width="270.5" height="132.5" fill="#fff" stroke="#262626" stroke-width="1"/>
<line x1="511.5" y1="448.4" x2="574.5" y2="448.4" stroke="#f00000" stroke-width="2"/>
<text transform="translate(579.00,455.80)" text-anchor="start" font-size="18.8" fill="#000">Straight-and-Level sim</text>
<path transform="translate(542.5,474.6)" d="M-4,0H4M0,-4V4M-2.8,-2.8L2.8,2.8M-2.8,2.8L2.8,-2.8" stroke="#f00000" stroke-width="1" fill="none"/>
<text transform="translate(579.00,482.00)" text-anchor="start" font-size="18.8" fill="#000">Straight-and-Level real</text>
<line x1="511.5" y1="500.5" x2="574.5" y2="500.5" stroke="#10e810" stroke-width="2"/>
<text transform="translate(579.00,507.90)" text-anchor="start" font-size="18.8" fill="#000">Glideslope sim</text>
<path transform="translate(542.5,526.2)" d="M-4,0H4M0,-4V4M-2.8,-2.8L2.8,2.8M-2.8,2.8L2.8,-2.8" stroke="#10e810" stroke-width="1" fill="none"/>
<text transform="translate(579.00,533.60)" text-anchor="start" font-size="18.8" fill="#000">Glideslope real</text>
<line x1="511.5" y1="551.5" x2="574.5" y2="551.5" stroke="#000" stroke-width="2"/>
<text transform="translate(579.00,558.90)" text-anchor="start" font-size="18.8" fill="#000">Absolute skill</text>
</svg></body></html>
